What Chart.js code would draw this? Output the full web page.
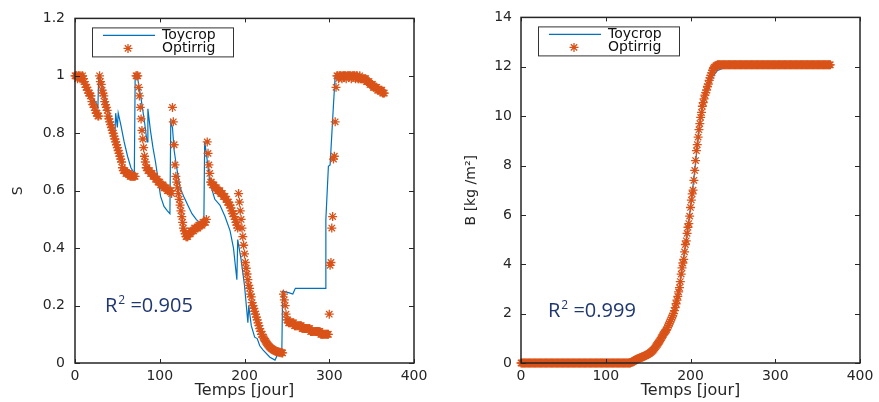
<!DOCTYPE html>
<html>
<head>
<meta charset="utf-8">
<script src="https://cdn.jsdelivr.net/npm/chart.js@4.4.1/dist/chart.umd.min.js"></script>
<style>
  html, body { margin: 0; padding: 0; background: #fff; }
  canvas { position: absolute; top: 0; }
  #chartS { left: 0; }
  #chartB { left: 440px; }
</style>
</head>
<body>
<canvas id="chartS" width="440" height="402"></canvas>
<canvas id="chartB" width="439" height="402"></canvas>
<script>
// Toycrop soil moisture (break points of the line)
const toyDays = [0,6,12,18,24,27,28,30,34,38, 43,47,48,50,51,54,58,62,66,70,
  71,74,78,82,85,86,89,92,95,98, 101,105,109,112,113,115,117,120,124,129,
  133,138,143,148,152,153,155,159,165,171, 177,183,187,191,192,196,200,204,205,208,
  212,215,218,222,230,236,239,244,245,252, 257,260,295,296,299,301,305,307,340,345,
  352,358,365];
const toyS = [1.00,0.99,0.96,0.93,0.91,0.89,1.00,0.99,0.95,0.90, 0.84,0.79,0.87,0.82,0.87,0.83,0.77,0.72,0.68,0.66,
  1.00,0.99,0.92,0.84,0.77,0.885,0.81,0.75,0.70,0.64, 0.58,0.545,0.53,0.52,0.84,0.82,0.74,0.68,0.61,0.575,
  0.55,0.52,0.50,0.485,0.48,0.77,0.73,0.63,0.57,0.55, 0.51,0.46,0.40,0.29,0.43,0.36,0.27,0.14,0.20,0.13,
  0.09,0.085,0.06,0.045,0.02,0.01,0.03,0.03,0.25,0.245, 0.24,0.26,0.26,0.50,0.685,0.69,0.90,1.00,1.00,0.99,
  0.97,0.96,0.945];

// Optirrig soil moisture, one value per day (day 0 .. 365)
const optS = [
  1.00,1.00,1.00,0.99,1.00,1.00,0.99,1.00,0.99,1.00,   // 0
  0.99,0.98,0.97,0.96,0.96,0.95,0.94,0.94,0.93,0.93,   // 10
  0.91,0.90,0.90,0.89,0.88,0.87,0.87,0.86,0.86,1.00,   // 20
  0.98,0.97,0.95,0.94,0.93,0.91,0.90,0.89,0.88,0.86,   // 30
  0.85,0.84,0.83,0.82,0.81,0.80,0.79,0.78,0.77,0.76,   // 40
  0.75,0.74,0.73,0.72,0.71,0.70,0.68,0.67,0.67,0.67,   // 50
  0.66,0.66,0.66,0.66,0.66,0.65,0.65,0.65,0.65,0.65,   // 60
  0.65,0.65,1.00,1.00,1.00,0.96,0.93,0.89,0.85,0.81,   // 70
  0.78,0.75,0.72,0.70,0.68,0.68,0.67,0.67,0.67,0.66,   // 80
  0.66,0.66,0.65,0.65,0.65,0.64,0.64,0.64,0.63,0.63,   // 90
  0.63,0.62,0.62,0.62,0.62,0.61,0.61,0.61,0.61,0.60,   // 100
  0.60,0.60,0.60,0.60,0.59,0.89,0.84,0.76,0.69,0.65,   // 110
  0.63,0.61,0.59,0.57,0.55,0.53,0.51,0.49,0.47,0.46,   // 120
  0.45,0.44,0.44,0.44,0.45,0.45,0.45,0.46,0.46,0.46,   // 130
  0.46,0.47,0.47,0.47,0.47,0.47,0.48,0.48,0.48,0.48,   // 140
  0.48,0.49,0.49,0.49,0.49,0.50,0.77,0.73,0.69,0.66,   // 150
  0.63,0.63,0.62,0.62,0.62,0.61,0.61,0.61,0.60,0.60,   // 160
  0.60,0.60,0.59,0.59,0.59,0.58,0.58,0.58,0.57,0.57,   // 170
  0.56,0.56,0.55,0.55,0.54,0.53,0.52,0.52,0.51,0.50,   // 180
  0.49,0.48,0.47,0.59,0.56,0.53,0.50,0.47,0.44,0.41,   // 190
  0.38,0.35,0.33,0.31,0.29,0.27,0.26,0.24,0.23,0.21,   // 200
  0.20,0.19,0.18,0.17,0.16,0.15,0.14,0.13,0.12,0.11,   // 210
  0.10,0.10,0.09,0.085,0.080,0.075,0.070,0.066,0.062,0.058, // 220
  0.055,0.052,0.050,0.048,0.046,0.044,0.042,0.041,0.040,0.039, // 230
  0.038,0.037,0.037,0.036,0.036,0.035,0.24,0.22,0.20,0.17, // 240
  0.15,0.15,0.14,0.14,0.14,0.14,0.14,0.14,0.14,0.13,   // 250
  0.13,0.13,0.13,0.13,0.13,0.13,0.13,0.13,0.12,0.12,   // 260
  0.12,0.12,0.12,0.12,0.12,0.12,0.12,0.12,0.11,0.11,   // 270
  0.11,0.11,0.11,0.11,0.11,0.11,0.11,0.11,0.11,0.11,   // 280
  0.10,0.10,0.10,0.10,0.10,0.10,0.10,0.10,0.10,0.10,   // 290
  0.17,0.34,0.35,0.47,0.51,0.71,0.72,0.84,0.96,1.00,   // 300
  1.00,0.99,1.00,1.00,1.00,0.99,1.00,1.00,1.00,1.00,   // 310
  0.99,1.00,1.00,1.00,1.00,1.00,0.99,1.00,1.00,1.00,   // 320
  1.00,0.99,1.00,1.00,0.99,0.99,1.00,0.99,0.99,0.99,   // 330
  0.99,0.99,0.99,0.99,0.98,0.98,0.98,0.98,0.97,0.97,   // 340
  0.97,0.97,0.96,0.96,0.96,0.96,0.96,0.95,0.95,0.95,   // 350
  0.95,0.95,0.95,0.94,0.94,0.94                        // 360
];

// Toycrop biomass (break points of the line)
const toyBDays = [0,128,135,144,152,160,168,175,180,185,190,195,200,205,210,214,219,226,232,240,249,365];
const toyB = [0,0,0.08,0.25,0.42,0.72,1.18,1.62,2.0,2.65,3.85,4.95,6.3,7.8,9.45,10.4,11.0,11.6,11.85,11.96,12.02,12.05];

// Optirrig biomass, one value per day (day 0 .. 365)
const optB = [
  0,0,0,0,0,0,0,0,0,0, 0,0,0,0,0,0,0,0,0,0,           // 0
  0,0,0,0,0,0,0,0,0,0, 0,0,0,0,0,0,0,0,0,0,           // 20
  0,0,0,0,0,0,0,0,0,0, 0,0,0,0,0,0,0,0,0,0,           // 40
  0,0,0,0,0,0,0,0,0,0, 0,0,0,0,0,0,0,0,0,0,           // 60
  0,0,0,0,0,0,0,0,0,0, 0,0,0,0,0,0,0,0,0,0,           // 80
  0,0,0,0,0,0,0,0,0,0, 0,0,0,0,0,0,0,0,0,0,           // 100
  0,0,0,0,0,0,0,0,0,0,                                // 120
  0.02,0.04,0.06,0.08,0.10,0.12,0.14,0.16,0.17,0.19,  // 130
  0.20,0.21,0.23,0.24,0.25,0.27,0.29,0.30,0.32,0.34,  // 140
  0.36,0.38,0.40,0.43,0.46,0.49,0.52,0.56,0.61,0.66,  // 150
  0.71,0.76,0.81,0.86,0.92,0.98,1.04,1.10,1.16,1.22,  // 160
  1.26,1.31,1.36,1.44,1.52,1.60,1.68,1.76,1.84,1.92,  // 170
  2.00,2.12,2.24,2.40,2.55,2.70,2.88,3.05,3.30,3.60,  // 180
  3.85,4.05,4.20,4.50,4.80,4.95,5.25,5.50,5.65,5.95,  // 190
  6.30,6.60,6.85,7.00,7.40,7.80,8.20,8.60,8.85,9.15,  // 200
  9.45,9.70,9.95,10.15,10.40,10.55,10.70,10.85,10.95,11.05, // 210
  11.20,11.30,11.45,11.55,11.65,11.75,11.85,11.92,11.97,12.00, // 220
  12.04,12.06,12.08,12.08,12.08,12.08,12.08,12.08,12.08,12.08, // 230
  12.08,12.08,12.08,12.08,12.08,12.08,12.08,12.08,12.08,12.08, // 240
  12.08,12.08,12.08,12.08,12.08,12.08,12.08,12.08,12.08,12.08, // 250
  12.08,12.08,12.08,12.08,12.08,12.08,12.08,12.08,12.08,12.08, // 260
  12.08,12.08,12.08,12.08,12.08,12.08,12.08,12.08,12.08,12.08, // 270
  12.08,12.08,12.08,12.08,12.08,12.08,12.08,12.08,12.08,12.08, // 280
  12.08,12.08,12.08,12.08,12.08,12.08,12.08,12.08,12.08,12.08, // 290
  12.08,12.08,12.08,12.08,12.08,12.08,12.08,12.08,12.08,12.08, // 300
  12.08,12.08,12.08,12.08,12.08,12.08,12.08,12.08,12.08,12.08, // 310
  12.08,12.08,12.08,12.08,12.08,12.08,12.08,12.08,12.08,12.08, // 320
  12.08,12.08,12.08,12.08,12.08,12.08,12.08,12.08,12.08,12.08, // 330
  12.08,12.08,12.08,12.08,12.08,12.08,12.08,12.08,12.08,12.08, // 340
  12.08,12.08,12.08,12.08,12.08,12.08,12.08,12.08,12.08,12.08, // 350
  12.08,12.08,12.08,12.08,12.08,12.08                       // 360
];

const seriesNames = ['Toycrop', 'Optirrig'];
const xTicks = [0, 100, 200, 300, 400];

const BLUE = '#0072BD';
const ORANGE = '#D95319';
const AXIS = '#262626';

Chart.defaults.font.family = 'DejaVu Sans';
Chart.defaults.color = AXIS;

const pairs = (xs, ys) => xs.map((d, i) => ({ x: d, y: ys[i] }));
const daily = ys => ys.map((v, d) => ({ x: d, y: v }));

function drawStar(ctx, x, y, r) {
  const d = r * Math.SQRT1_2;
  ctx.beginPath();
  ctx.moveTo(x - r, y); ctx.lineTo(x + r, y);
  ctx.moveTo(x, y - r); ctx.lineTo(x, y + r);
  ctx.moveTo(x - d, y - d); ctx.lineTo(x + d, y + d);
  ctx.moveTo(x - d, y + d); ctx.lineTo(x + d, y - d);
  ctx.stroke();
}

// box with inward ticks, legend and R² note, MATLAB style
const matlabAxes = {
  id: 'matlabAxes',
  afterDraw(chart, args, opts) {
    const { ctx, chartArea: a, scales: { x, y } } = chart;
    ctx.save();
    ctx.strokeStyle = AXIS;
    ctx.lineWidth = 1;
    x.ticks.forEach(t => {
      const p = Math.round(x.getPixelForValue(t.value)) + 0.5;
      ctx.beginPath();
      ctx.moveTo(p, a.bottom); ctx.lineTo(p, a.bottom - 4);
      ctx.moveTo(p, a.top); ctx.lineTo(p, a.top + 4);
      ctx.stroke();
    });
    y.ticks.forEach(t => {
      const p = Math.round(y.getPixelForValue(t.value)) + 0.5;
      ctx.beginPath();
      ctx.moveTo(a.left, p); ctx.lineTo(a.left + 5, p);
      ctx.moveTo(a.right, p); ctx.lineTo(a.right - 5, p);
      ctx.stroke();
    });
    ctx.lineWidth = 1.5;
    ctx.strokeRect(a.left, a.top, a.right - a.left, a.bottom - a.top);

    // legend
    const lx = a.left + 17, ly = a.top + 9, lw = 141, lh = 29;
    ctx.fillStyle = '#fff';
    ctx.fillRect(lx, ly, lw, lh);
    ctx.lineWidth = 1;
    ctx.strokeStyle = '#333';
    ctx.strokeRect(lx + 0.5, ly + 0.5, lw, lh);
    ctx.strokeStyle = BLUE;
    ctx.lineWidth = 1.2;
    ctx.beginPath();
    ctx.moveTo(lx + 11, ly + 8); ctx.lineTo(lx + 63, ly + 8);
    ctx.stroke();
    ctx.strokeStyle = ORANGE;
    ctx.lineWidth = 1.3;
    drawStar(ctx, lx + 36, ly + 21, 4.5);
    ctx.fillStyle = '#111';
    ctx.font = '14px "DejaVu Sans"';
    ctx.textBaseline = 'middle';
    ctx.textAlign = 'left';
    ctx.fillText(seriesNames[0], lx + 70, ly + 8);
    ctx.fillText(seriesNames[1], lx + 70, ly + 21);

    // R² note
    const rx = a.left + opts.dx, ry = a.top + opts.dy;
    ctx.fillStyle = '#1F3770';
    ctx.textBaseline = 'alphabetic';
    ctx.font = '20px "Open Sans"';
    ctx.fillText('R', rx, ry);
    let w = ctx.measureText('R').width + 1;
    ctx.font = '12px "Open Sans"';
    ctx.fillText('2', rx + w, ry - 8);
    w += ctx.measureText('2').width;
    ctx.font = '20px "Open Sans"';
    ctx.fillText(' =' + opts.r2, rx + w, ry);
    ctx.restore();
  }
};

function makeChart(id, cfg) {
  return new Chart(document.getElementById(id), {
    type: 'scatter',
    data: {
      datasets: [
        {
          label: seriesNames[0], data: cfg.toy, showLine: true,
          borderColor: BLUE, borderWidth: 1.2, pointRadius: 0, tension: 0, order: 2
        },
        {
          label: seriesNames[1], data: cfg.opt, showLine: false,
          pointStyle: 'star', pointRadius: 4.5, pointBorderWidth: 1.3,
          borderColor: ORANGE, backgroundColor: ORANGE, order: 1, clip: false
        }
      ]
    },
    options: {
      responsive: false,
      animation: false,
      events: [],
      layout: { padding: { top: 13, right: cfg.padRight, left: 0, bottom: 0 } },
      scales: {
        x: {
          type: 'linear', min: 0, max: 400,
          afterBuildTicks: s => { s.ticks = xTicks.map(v => ({ value: v })); },
          afterFit: s => { s.height = 39; },
          grid: { display: false, drawTicks: false }, border: { display: false },
          ticks: { padding: 5, font: { size: 14 }, color: AXIS },
          title: { display: true, text: 'Temps [jour]', font: { size: 16 }, color: AXIS, padding: { top: 0, bottom: 2 } }
        },
        y: {
          min: 0, max: cfg.yMax,
          ticks: {
            stepSize: cfg.yStep, padding: cfg.tickPad, font: { size: 14 }, color: AXIS,
            callback: v => String(Math.round(v * 10) / 10)
          },
          afterFit: s => { s.width = cfg.yWidth; },
          grid: { display: false, drawTicks: false }, border: { display: false },
          title: { display: true, text: cfg.yTitle, font: { size: 14 }, color: AXIS, padding: { top: cfg.titlePad, bottom: 0 } }
        }
      },
      plugins: {
        legend: { display: false },
        tooltip: { enabled: false },
        matlabAxes: { r2: cfg.r2, dx: cfg.r2dx, dy: cfg.r2dy }
      }
    },
    plugins: [matlabAxes]
  });
}

makeChart('chartS', {
  toy: pairs(toyDays, toyS), opt: daily(optS),
  yMax: 1.2, yStep: 0.2, yTitle: 'S', yWidth: 75, padRight: 26, tickPad: 10, titlePad: 10,
  r2: '0.905', r2dx: 30, r2dy: 294
});

makeChart('chartB', {
  toy: pairs(toyBDays, toyB), opt: daily(optB),
  yMax: 14, yStep: 2, yTitle: 'B [kg /m²]', yWidth: 81, padRight: 19, tickPad: 9, titlePad: 23,
  r2: '0.999', r2dx: 27, r2dy: 300
});
</script>
</body>
</html>
